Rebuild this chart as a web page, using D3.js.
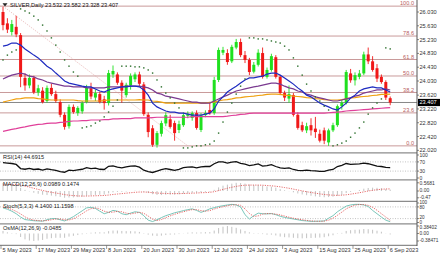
<!DOCTYPE html>
<html><head><meta charset="utf-8">
<script src="https://cdn.jsdelivr.net/npm/d3@7"></script>
<style>
html,body{margin:0;padding:0;background:#fff;}
svg{display:block;font-family:"Liberation Sans",Arial,sans-serif;}
</style></head><body>
<svg id="c" width="440" height="254"></svg>
<script>
// ---------- DATA ----------
const dates = ["2023-05-05","2023-05-08","2023-05-09","2023-05-10","2023-05-11","2023-05-12","2023-05-15","2023-05-16","2023-05-17","2023-05-18",
"2023-05-19","2023-05-22","2023-05-23","2023-05-24","2023-05-25","2023-05-26","2023-05-29","2023-05-30","2023-05-31","2023-06-01",
"2023-06-02","2023-06-05","2023-06-06","2023-06-07","2023-06-08","2023-06-09","2023-06-12","2023-06-13","2023-06-14","2023-06-15",
"2023-06-16","2023-06-19","2023-06-20","2023-06-21","2023-06-22","2023-06-23","2023-06-26","2023-06-27","2023-06-28","2023-06-29",
"2023-06-30","2023-07-03","2023-07-04","2023-07-05","2023-07-06","2023-07-07","2023-07-10","2023-07-11","2023-07-12","2023-07-13",
"2023-07-14","2023-07-17","2023-07-18","2023-07-19","2023-07-20","2023-07-21","2023-07-24","2023-07-25","2023-07-26","2023-07-27",
"2023-07-28","2023-07-31","2023-08-01","2023-08-02","2023-08-03","2023-08-04","2023-08-07","2023-08-08","2023-08-09","2023-08-10",
"2023-08-11","2023-08-14","2023-08-15","2023-08-16","2023-08-17","2023-08-18","2023-08-21","2023-08-22","2023-08-23","2023-08-24",
"2023-08-25","2023-08-28","2023-08-29","2023-08-30","2023-08-31","2023-09-01","2023-09-04","2023-09-05","2023-09-06"];

const open = [26.03,25.70,25.45,25.60,25.36,24.12,23.90,24.12,23.70,23.75,
23.45,23.83,23.65,23.42,23.05,22.72,23.28,23.10,23.15,23.42,
23.82,23.55,23.65,23.50,23.39,24.22,24.22,23.98,23.62,23.90,
24.08,24.22,23.93,23.05,22.66,22.18,22.50,22.80,22.92,22.81,
22.61,22.75,23.02,22.96,23.10,22.61,23.04,23.19,23.10,24.06,
24.85,24.84,24.60,25.00,25.16,24.78,24.64,24.30,24.50,24.84,
24.15,24.35,24.72,24.15,23.68,23.52,23.62,23.05,22.75,22.60,
22.75,22.65,22.50,22.60,22.25,22.60,22.75,23.30,23.39,24.25,
24.05,24.15,24.25,24.80,24.60,24.40,24.15,24.00,23.532];
const high = [26.18,25.85,25.80,25.92,25.42,24.25,24.22,24.18,23.92,23.85,
23.90,23.95,23.75,23.50,23.12,23.35,23.35,23.30,23.45,23.92,
23.98,23.78,23.72,23.60,24.35,24.48,24.28,24.05,23.98,24.25,
24.28,24.30,24.00,23.12,22.75,22.58,22.88,23.12,23.05,22.88,
22.88,23.12,23.15,23.15,23.18,23.10,23.18,23.42,24.15,25.00,
25.02,24.95,25.08,25.25,25.26,24.90,24.70,24.58,24.95,25.00,
24.42,24.82,24.78,24.20,23.75,23.90,23.68,23.12,22.85,22.82,
22.95,22.99,22.62,22.68,22.65,22.82,23.35,23.48,24.35,24.38,
24.28,24.35,24.88,25.00,24.75,24.52,24.22,24.05,23.582];
const low = [25.50,25.42,25.35,25.30,23.85,23.75,23.82,23.65,23.60,23.38,
23.40,23.60,23.40,22.98,22.62,22.65,23.08,23.02,23.08,23.38,
23.50,23.45,23.38,23.20,23.32,24.12,23.92,23.40,23.55,23.78,
24.00,23.88,23.02,22.40,22.12,22.10,22.42,22.72,22.65,22.30,
22.52,22.70,22.95,22.88,22.62,22.55,22.98,23.05,23.05,24.00,
24.78,24.50,24.55,24.95,24.72,24.55,24.20,24.25,24.45,24.10,
24.10,24.30,24.10,23.62,23.45,23.40,23.00,22.62,22.55,22.52,
22.45,22.38,22.25,22.20,22.15,22.55,22.70,23.20,23.35,23.98,
23.90,24.08,24.20,24.52,24.30,24.00,23.95,23.48,23.328];
const close = [25.65,25.52,25.68,25.38,24.15,23.90,24.12,23.70,23.82,23.42,
23.83,23.65,23.45,23.05,22.70,23.28,23.13,23.25,23.39,23.83,
23.58,23.68,23.42,23.39,24.26,24.32,23.98,23.75,23.92,24.18,
24.22,23.95,23.07,22.55,22.18,22.52,22.81,23.04,22.70,22.52,
22.78,23.04,23.08,23.10,22.67,23.04,23.10,23.10,24.06,24.93,
24.93,24.58,25.02,25.16,24.78,24.64,24.29,24.50,24.85,24.15,
24.35,24.75,24.15,23.68,23.55,23.65,23.05,22.67,22.60,22.72,
22.60,22.55,22.30,22.30,22.60,22.75,23.30,23.40,24.29,24.05,
24.20,24.25,24.80,24.60,24.35,24.10,24.00,23.55,23.407];

const maBlue = [25.04,25.07,25.13,25.13,25.07,24.96,24.87,24.78,24.70,24.58,
24.46,24.38,24.26,24.15,24.03,23.97,23.94,23.91,23.88,23.86,
23.86,23.80,23.74,23.71,23.77,23.80,23.83,23.86,23.86,23.88,
23.88,23.86,23.77,23.62,23.39,23.28,23.22,23.16,23.13,23.13,
23.10,23.10,23.07,23.04,23.04,23.04,23.07,23.10,23.22,23.45,
23.57,23.71,23.80,23.88,23.97,24.06,24.12,24.12,24.15,24.17,
24.23,24.26,24.26,24.20,24.12,24.03,23.94,23.83,23.74,23.62,
23.57,23.48,23.39,23.33,23.28,23.22,23.19,23.28,23.39,23.54,
23.62,23.74,23.80,23.83,23.86,23.83,23.83,23.77,23.71];
const maPurple = [24.09,24.15,24.20,24.23,24.26,24.23,24.17,24.15,24.09,24.06,
24.00,23.97,23.94,23.91,23.88,23.88,23.86,23.86,23.86,23.83,
23.83,23.83,23.83,23.83,23.86,23.86,23.86,23.86,23.88,23.88,
23.88,23.88,23.86,23.83,23.77,23.68,23.65,23.59,23.57,23.54,
23.51,23.48,23.45,23.42,23.42,23.39,23.39,23.39,23.45,23.51,
23.57,23.62,23.68,23.74,23.77,23.80,23.83,23.86,23.88,23.91,
23.94,23.97,23.97,23.94,23.88,23.83,23.80,23.74,23.71,23.65,
23.62,23.57,23.54,23.51,23.48,23.45,23.45,23.48,23.51,23.54,
23.59,23.62,23.68,23.71,23.74,23.77,23.77,23.80,23.77];
const maOrange = [23.42,23.45,23.48,23.51,23.52,23.54,23.54,23.54,23.52,23.51,
23.49,23.48,23.48,23.48,23.48,23.48,23.48,23.46,23.45,23.45,
23.45,23.45,23.45,23.46,23.48,23.48,23.48,23.48,23.48,23.48,
23.48,23.49,23.48,23.48,23.45,23.44,23.42,23.39,23.39,23.39,
23.39,23.39,23.39,23.39,23.39,23.39,23.39,23.41,23.42,23.45,
23.48,23.49,23.51,23.54,23.55,23.57,23.58,23.59,23.61,23.62,
23.64,23.65,23.65,23.64,23.62,23.61,23.59,23.58,23.57,23.55,
23.54,23.52,23.51,23.49,23.48,23.48,23.48,23.49,23.51,23.54,
23.55,23.57,23.58,23.59,23.61,23.62,23.64,23.64,23.65];
const maPink = [22.57,22.60,22.63,22.65,22.68,22.70,22.73,22.75,22.77,22.78,
22.80,22.81,22.81,22.83,22.84,22.86,22.87,22.87,22.88,22.88,
22.90,22.90,22.90,22.91,22.91,22.93,22.93,22.94,22.94,22.94,
22.96,22.96,22.96,22.96,22.97,22.98,22.98,22.98,22.98,22.98,
22.98,22.98,22.98,23.00,23.00,23.00,23.00,23.00,23.00,23.00,
23.00,23.01,23.03,23.04,23.06,23.07,23.09,23.10,23.10,23.10,
23.10,23.10,23.10,23.10,23.10,23.10,23.10,23.10,23.10,23.10,
23.10,23.10,23.10,23.10,23.11,23.12,23.13,23.14,23.16,23.17,
23.18,23.19,23.20,23.21,23.22,23.23,23.24,23.25,23.26];
const psar = [24.64,24.78,24.87,24.93,26.12,26.06,26.00,25.91,25.80,25.65,
25.48,25.28,25.07,24.87,24.64,24.46,24.29,24.17,22.67,22.70,
22.73,22.81,22.87,22.99,23.13,23.30,23.48,24.46,24.46,24.46,
24.44,24.44,24.41,24.35,24.26,24.06,23.86,23.68,23.54,23.39,
23.25,22.09,22.09,22.12,22.15,22.15,22.18,22.20,22.29,22.52,
22.84,23.13,23.39,23.65,23.88,24.09,25.28,25.28,25.25,25.25,
25.22,25.19,25.16,25.13,25.04,24.93,24.70,24.46,24.20,23.94,
23.74,23.57,23.45,23.30,23.19,22.15,22.18,22.23,22.29,22.40,
22.52,22.67,22.84,23.07,23.25,23.39,23.51,24.99,24.96];

const fibHigh = 26.20, fibLow = 22.15;
const fibLevels = ["0.0","23.6","38.2","50.0","61.8","78.6","100.0"];
const fibStartBar = 0, fibEndBar = 42;
const lastPrice = 23.407;
const priceTicks = ["26.030","25.630","25.230","24.830","24.430","24.030","23.620","23.220","22.820","22.420","22.020"];

const rsi = [67,65,63,59,41,38,42,37,39,34,
40,36,33,28,25,34,32,35,38,45,
41,43,38,37,51,53,47,44,48,52,
53,47,34,28,24,30,36,41,37,33,
38,45,47,48,44,48,50,50,62,70,
70,65,69,71,64,60,54,57,61,52,
54,58,50,44,42,44,37,33,32,34,
32,31,29,29,34,37,50,55,63,59,
60,61,65,62,57,52,50,46,44.69];
const macd = [0.55,0.50,0.47,0.41,0.22,0.08,-0.02,-0.12,-0.19,-0.26,
-0.28,-0.32,-0.36,-0.41,-0.47,-0.45,-0.44,-0.42,-0.39,-0.33,
-0.30,-0.27,-0.26,-0.25,-0.16,-0.09,-0.06,-0.05,-0.03,0.00,
0.02,0.01,-0.05,-0.14,-0.22,-0.27,-0.28,-0.26,-0.25,-0.25,
-0.23,-0.19,-0.15,-0.12,-0.12,-0.09,-0.06,-0.04,0.08,0.25,
0.37,0.44,0.51,0.568,0.55,0.51,0.45,0.42,0.42,0.36,
0.31,0.30,0.23,0.13,0.05,-0.01,-0.09,-0.17,-0.24,-0.29,
-0.33,-0.37,-0.41,-0.43,-0.42,-0.39,-0.33,-0.27,-0.14,-0.06,
0.01,0.07,0.16,0.21,0.23,0.22,0.20,0.14,0.0989];
const macdSignal = [0.42,0.44,0.45,0.44,0.40,0.34,0.27,0.19,0.11,0.04,
-0.03,-0.09,-0.14,-0.19,-0.25,-0.29,-0.32,-0.34,-0.35,-0.35,
-0.34,-0.33,-0.32,-0.31,-0.28,-0.24,-0.21,-0.18,-0.15,-0.12,
-0.09,-0.07,-0.07,-0.08,-0.12,-0.14,-0.16,-0.17,-0.18,-0.18,
-0.18,-0.17,-0.16,-0.15,-0.14,-0.12,-0.11,-0.09,-0.05,0.03,
0.11,0.19,0.26,0.32,0.37,0.40,0.41,0.41,0.41,0.40,
0.38,0.36,0.33,0.29,0.24,0.19,0.13,0.07,0.01,-0.05,
-0.10,-0.15,-0.20,-0.24,-0.27,-0.29,-0.30,-0.29,-0.26,-0.22,
-0.17,-0.12,-0.06,0.00,0.05,0.09,0.12,0.14,0.1474];
const stochK = [75,68,58,45,28,15,12,9,8,7,
14,20,20,14,8,18,30,45,60,75,
78,72,58,45,52,62,58,45,40,48,
55,52,35,12,5,14,25,35,42,50,
55,61,66,70,62,52,60,70,76,82,
86,90,93,90,80,40,18,35,48,45,
44,46,40,32,26,22,18,14,10,8,
6,6,7,8,22,35,55,70,84,90,
93,93,90,82,62,45,28,12,4.14];
const stochD = [80,74,67,57,44,29,18,12,10,8,
10,14,18,18,14,13,19,31,45,60,
71,75,69,58,52,53,57,55,48,44,
48,52,47,33,17,10,15,25,34,42,
49,55,61,66,66,61,58,61,69,76,
81,86,90,91,88,70,46,31,34,43,
46,45,43,39,33,27,22,18,14,11,
8,7,6,7,12,22,37,53,70,81,
89,92,92,88,78,63,45,28,11.16];
const osma = [0.13,0.06,0.02,-0.03,-0.18,-0.30,-0.36,-0.3847,-0.36,-0.33,
-0.27,-0.24,-0.22,-0.22,-0.22,-0.16,-0.12,-0.08,-0.04,0.02,
0.04,0.06,0.06,0.06,0.12,0.15,0.15,0.13,0.12,0.12,
0.11,0.08,0.02,-0.06,-0.11,-0.13,-0.11,-0.08,-0.06,-0.05,
-0.03,0.01,0.04,0.06,0.05,0.06,0.07,0.07,0.15,0.28,
0.35,0.384,0.34,0.29,0.21,0.13,0.06,0.02,0.02,-0.03,
-0.06,-0.06,-0.10,-0.16,-0.19,-0.20,-0.22,-0.24,-0.25,-0.24,
-0.23,-0.22,-0.21,-0.19,-0.14,-0.09,-0.02,0.03,0.13,0.17,
0.19,0.20,0.23,0.22,0.19,0.14,0.09,0.01,-0.0485];

const dateTickIdx = [0,8,16,24,32,40,48,56,64,72,80,88];
const dateTickLabels = ["5 May 2023","17 May 2023","29 May 2023","8 Jun 2023","20 Jun 2023","30 Jun 2023","12 Jul 2023","24 Jul 2023","3 Aug 2023","15 Aug 2023","25 Aug 2023","6 Sep 2023"];

const title = "SILVER,Daily 23.532 23.582 23.328 23.407";
const rsiLabel = "RSI(14) 44.6915";
const macdLabel = "MACD(12,26,9) 0.0989 0.1474";
const stochLabel = "Stoch(5,3,3) 4.1400 11.1598";
const osmaLabel = "OsMA(12,26,9) -0.0485";

// ---------- DRAW ----------
const svg = d3.select("#c");
const AX = 417, FS = 5.6;
const idx = d3.range(close.length);
const x = d3.scaleLinear().domain([0, 88]).range([3, 390.2]);
const y = d3.scaleLinear().domain([22.03, 26.03]).range([150, 12]);
const yR = d3.scaleLinear().domain([0, 100]).range([178, 155]);
const yM = d3.scaleLinear().domain([-0.47, 0.5681]).range([197.8, 182.8]);
const yS = d3.scaleLinear().domain([0, 100]).range([222.5, 203]);
const yO = d3.scaleLinear().domain([-0.38471, 0.38402]).range([241, 226]);

svg.append("rect").attr("width",440).attr("height",254).attr("fill","#fff");

// fib levels
const fy = l => y(fibLow + (fibHigh - fibLow) * parseFloat(l) / 100);
const gF = svg.append("g");
fibLevels.forEach(l => {
  gF.append("line").attr("x1",0).attr("x2",AX).attr("y1",fy(l)).attr("y2",fy(l))
    .attr("stroke","#c99a9a").attr("stroke-width",1);
  gF.append("text").attr("x",414).attr("y",fy(l)-0.8).attr("text-anchor","end")
    .attr("font-size",FS).attr("fill","#b86060").text(l);
});
gF.append("line").attr("x1",x(fibStartBar)).attr("y1",y(fibHigh)).attr("x2",x(fibEndBar)).attr("y2",y(fibLow))
  .attr("stroke","#e0a0a0").attr("stroke-width",0.8).attr("stroke-dasharray","1,1.5");

// bid line
svg.append("line").attr("x1",0).attr("x2",AX).attr("y1",y(lastPrice)).attr("y2",y(lastPrice))
  .attr("stroke","#7a7a7a").attr("stroke-width",0.9);

// candles
const gC = svg.append("g");
idx.forEach(i => {
  const up = close[i] >= open[i];
  const col = up ? "#1fe01f" : "#f01818";
  gC.append("line").attr("x1",x(i)).attr("x2",x(i)).attr("y1",y(high[i])).attr("y2",y(low[i]))
    .attr("stroke",col).attr("stroke-width",0.9);
  const t = y(Math.max(open[i],close[i])), b = y(Math.min(open[i],close[i]));
  gC.append("rect").attr("x",x(i)-1.5).attr("width",3).attr("y",t).attr("height",Math.max(1,b-t)).attr("fill",col);
});

// MAs
const ln = (arr, sc) => d3.line().x((d,i)=>x(i)).y(d=>sc(d))(arr);
[[maPink,"#e0409a"],[maOrange,"#f0a010"],[maPurple,"#7a3a90"],[maBlue,"#1e2bc0"]].forEach(([a,c]) => {
  svg.append("path").attr("d",ln(a,y)).attr("fill","none").attr("stroke",c).attr("stroke-width",1.2);
});

// PSAR
svg.append("g").selectAll("rect").data(psar).join("rect")
  .attr("x",(d,i)=>x(i)-0.7).attr("y",d=>y(d)-0.7).attr("width",1.4).attr("height",1.4).attr("fill","#2a6e2a");

// RSI panel
[70,30].forEach(v => svg.append("line").attr("x1",0).attr("x2",AX).attr("y1",yR(v)).attr("y2",yR(v))
  .attr("stroke","#9a9a9a").attr("stroke-width",0.6).attr("stroke-dasharray","1,1.5"));
svg.append("path").attr("d",ln(rsi,yR)).attr("fill","none").attr("stroke","#111").attr("stroke-width",1.3);

// MACD panel
svg.append("g").selectAll("line").data(macd).join("line")
  .attr("x1",(d,i)=>x(i)).attr("x2",(d,i)=>x(i)).attr("y1",yM(0)).attr("y2",d=>yM(d))
  .attr("stroke","#b4b4b4").attr("stroke-width",0.8);
svg.append("path").attr("d",ln(macdSignal,yM)).attr("fill","none").attr("stroke","#e04848").attr("stroke-width",0.8).attr("stroke-dasharray","1.2,1.2");

// Stoch panel
[80,20].forEach(v => svg.append("line").attr("x1",0).attr("x2",AX).attr("y1",yS(v)).attr("y2",yS(v))
  .attr("stroke","#9a9a9a").attr("stroke-width",0.6).attr("stroke-dasharray","1,1.5"));
svg.append("path").attr("d",ln(stochK,yS)).attr("fill","none").attr("stroke","#6cc0b2").attr("stroke-width",0.9);
svg.append("path").attr("d",ln(stochD,yS)).attr("fill","none").attr("stroke","#e04848").attr("stroke-width",0.8).attr("stroke-dasharray","1.2,1.2");

// OsMA panel
svg.append("g").selectAll("line").data(osma).join("line")
  .attr("x1",(d,i)=>x(i)).attr("x2",(d,i)=>x(i)).attr("y1",yO(0)).attr("y2",d=>yO(d))
  .attr("stroke","#b4b4b4").attr("stroke-width",0.8);

// panel separators and axis
[152.8,179.8,201.3,223.8,245.3].forEach(v => svg.append("line").attr("x1",0).attr("x2",AX).attr("y1",v).attr("y2",v)
  .attr("stroke","#8c8c8c").attr("stroke-width",1.2));
svg.append("line").attr("x1",AX).attr("x2",AX).attr("y1",0).attr("y2",246).attr("stroke","#555").attr("stroke-width",1);

// right axis labels (tick at value, text nudged to avoid collisions)
const rl = (val, yy, ty, fs) => {
  svg.append("line").attr("x1",AX).attr("x2",AX+2).attr("y1",yy).attr("y2",yy).attr("stroke","#555").attr("stroke-width",0.7);
  svg.append("text").attr("x",AX+2.5).attr("y",ty === undefined ? yy : ty).attr("dy","0.35em")
    .attr("font-size",fs || FS).attr("fill","#333").text(val);
};
priceTicks.forEach(t => rl(t, y(parseFloat(t))));
[["100",100],["70",70],["30",30],["0",0]].forEach(([t,v]) => rl(t, yR(v), undefined, 5));
[["0.5681",0.5681,183.2],["0.00",0,190.6],["-0.47",-0.47,197.4]].forEach(([t,v,ty]) => rl(t, yM(v), ty, 5));
[["100",100,202.6],["80",80,207.2],["20",20,217.4],["0",0,221.9]].forEach(([t,v,ty]) => rl(t, yS(v), ty, 4.6));
[["0.38402",0.38402,227.4],["0.00",0,233.6],["-0.38471",-0.38471,240.6]].forEach(([t,v,ty]) => rl(t, yO(v), ty, 4.8));

// last price box
const ly = y(lastPrice);
svg.append("rect").attr("x",AX+1).attr("y",ly-3.6).attr("width",22).attr("height",7.2).attr("fill","#000");
svg.append("text").attr("x",AX+2.5).attr("y",ly).attr("dy","0.35em").attr("font-size",FS).attr("fill","#fff").text(lastPrice.toFixed(3));

// x axis labels
dateTickIdx.forEach((b,k) => {
  svg.append("line").attr("x1",x(b)-2).attr("x2",x(b)-2).attr("y1",245.5).attr("y2",249).attr("stroke","#555").attr("stroke-width",0.6);
  svg.append("text").attr("x",x(b)-0.5).attr("y",251.8).attr("font-size",FS).attr("fill","#333").text(dateTickLabels[k]);
});

// titles
svg.append("path").attr("d","M2.5,3.2 L7.5,3.2 L5,6.4 Z").attr("fill","#222");
svg.append("text").attr("x",10).attr("y",7.2).attr("font-size",FS).attr("fill","#111").text(title);
svg.append("text").attr("x",3).attr("y",159).attr("font-size",FS).attr("fill","#222").text(rsiLabel);
svg.append("text").attr("x",3).attr("y",185.5).attr("font-size",FS).attr("fill","#222").text(macdLabel);
svg.append("text").attr("x",3).attr("y",207.5).attr("font-size",FS).attr("fill","#222").text(stochLabel);
svg.append("text").attr("x",3).attr("y",230).attr("font-size",FS).attr("fill","#222").text(osmaLabel);
</script>
</body></html>
